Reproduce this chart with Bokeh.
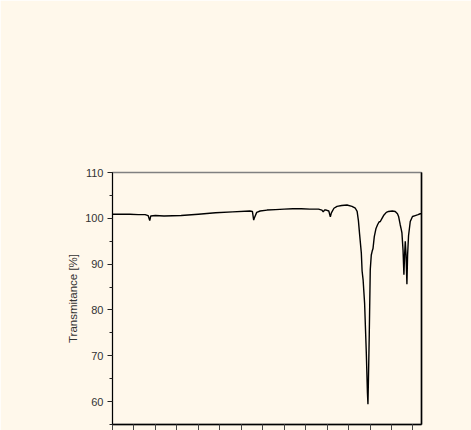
from bokeh.plotting import figure
from bokeh.models import Range1d, LinearAxis, SingleIntervalTicker, CustomJSTickFormatter
from bokeh.embed import file_html
from bokeh.resources import INLINE

# FTIR spectrum (wavenumber in cm-1, transmittance in %)
wavenumber = [4000, 3900, 3800, 3700, 3620, 3585, 3566, 3555, 3500, 3400, 3200, 3000,
              2800, 2600, 2400, 2370, 2355, 2345, 2320, 2280, 2200, 2100, 2000, 1900,
              1800, 1700, 1600, 1560, 1545, 1530, 1510, 1480, 1462, 1450, 1420, 1384,
              1330, 1268, 1210, 1171, 1150, 1135, 1121, 1101, 1092, 1086, 1080, 1063,
              1043, 1030, 1024, 1018, 1009, 997, 985, 975, 965, 950, 930, 912, 895,
              880, 860, 842, 810, 784, 740, 706, 680, 667, 648, 636, 628, 615, 605,
              597, 589, 580, 570, 562, 551, 531, 505, 473, 440, 415, 400]
transmittance = [100.9, 100.9, 100.9, 100.8, 100.8, 100.6, 99.5, 100.5, 100.6, 100.5,
                 100.6, 100.9, 101.2, 101.4, 101.6, 101.5, 99.6, 100.2, 101.3, 101.6,
                 101.8, 101.9, 102.0, 102.1, 102.1, 102.0, 102.0, 101.8, 101.4, 101.8,
                 101.8, 101.6, 100.3, 101.2, 102.2, 102.6, 102.8, 102.9, 102.6, 102.2,
                 101.5, 99.5, 96.5, 92.4, 88.5, 87.5, 86.5, 81.5, 70.6, 62.0, 59.4,
                 65.0, 74.2, 88.8, 92.0, 92.8, 93.4, 96.0, 97.8, 98.6, 99.2, 99.3,
                 100.0, 100.6, 101.3, 101.5, 101.6, 101.5, 101.0, 100.4, 98.6, 97.6,
                 96.8, 93.0, 87.7, 92.0, 95.0, 92.0, 85.6, 92.0, 96.2, 99.3, 100.4,
                 100.6, 100.8, 101.0, 101.0]

y_label = "Transmitance [%]"
bg = "#FFF8EB"

p = figure(width=471, height=430, output_backend="svg", toolbar_location=None,
           x_range=Range1d(4000, 400), y_range=Range1d(55, 110),
           x_axis_location=None, y_axis_location=None,
           min_border_left=112, min_border_right=50, min_border_top=172,
           min_border_bottom=0)
p.background_fill_color = bg
p.border_fill_color = bg
p.outline_line_color = "#808080"
p.outline_line_width = 1.5
p.grid.visible = False

yax = LinearAxis(ticker=SingleIntervalTicker(interval=10, num_minor_ticks=2),
                 axis_label=y_label)
yax.axis_line_color = "black"
yax.major_tick_line_color = "#222222"
yax.minor_tick_line_color = "#222222"
yax.major_tick_out = 5
yax.major_tick_in = 0
yax.minor_tick_out = 3
yax.minor_tick_in = 0
yax.major_label_text_font = "Liberation Sans"
yax.major_label_text_font_size = "11px"
yax.major_label_text_color = "#333333"
yax.major_label_standoff = 4
yax.axis_label_text_font = "Liberation Sans"
yax.axis_label_text_font_size = "11.5px"
yax.axis_label_text_font_style = "normal"
yax.axis_label_text_color = "#333333"
yax.axis_label_standoff = 3
p.add_layout(yax, "left")

xax = LinearAxis(ticker=SingleIntervalTicker(interval=500, num_minor_ticks=2),
                 formatter=CustomJSTickFormatter(code="return '';"))
xax.axis_line_color = "black"
xax.axis_line_width = 1.5
xax.major_tick_line_color = "#444444"
xax.minor_tick_line_color = "#444444"
xax.major_tick_out = 6
xax.major_tick_in = 0
xax.minor_tick_out = 6
xax.minor_tick_in = 0
xax.major_label_standoff = 0
xax.major_label_text_font_size = "1px"
p.add_layout(xax, "below")

rax = LinearAxis(major_tick_out=0, major_tick_in=0, minor_tick_out=0, minor_tick_in=0,
                 major_label_text_font_size="0px", major_label_standoff=0)
rax.axis_line_color = "black"
rax.axis_line_width = 1.5
rax.major_label_text_alpha = 0
p.add_layout(rax, "right")

p.line(wavenumber, transmittance, line_color="black", line_width=1.4)

open("out.html", "w").write(file_html(p, INLINE))
